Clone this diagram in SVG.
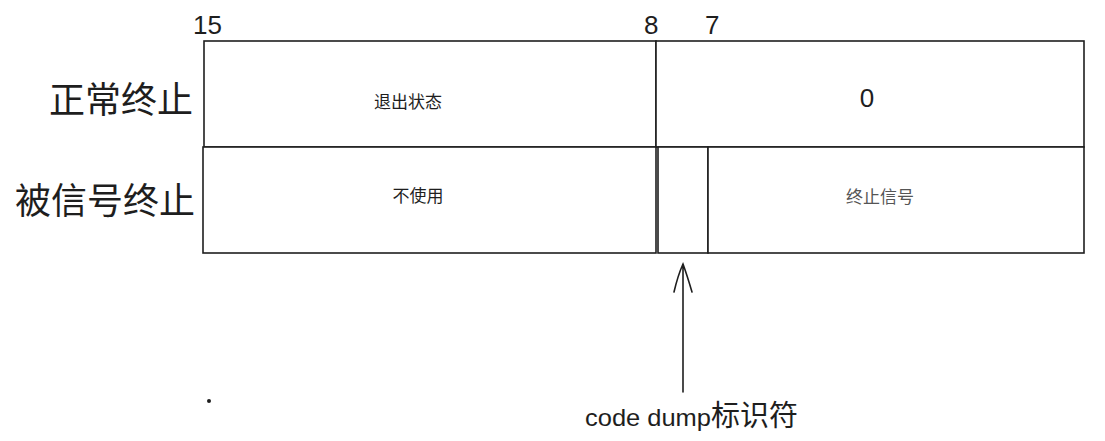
<svg xmlns="http://www.w3.org/2000/svg" width="1105" height="441" viewBox="0 0 1105 441">
<style>
.box{fill:#fff;stroke:#1e1e1e;stroke-width:1.6}
.big{font-family:"Noto Sans CJK SC","Liberation Sans",sans-serif;font-size:36px;fill:#1e1e1e}
.sm{font-family:"Noto Sans CJK SC","Liberation Sans",sans-serif;font-size:17px;fill:#1e1e1e}
.num{font-family:"Liberation Sans","Noto Sans CJK SC",sans-serif;font-size:26px;fill:#1e1e1e}
.cn{stroke:#1e1e1e;stroke-width:1.6;fill:none;stroke-linecap:round}
</style>
<rect width="1105" height="441" fill="#fff"/>
<g id="bits">
<text class="num" x="193" y="34">15</text>
<text class="num" x="644" y="34">8</text>
<text class="num" x="705" y="34">7</text>
</g>
<g id="row1">
<text class="big" x="193" y="113" text-anchor="end">正常终止</text>
<g id="exit-status"><rect class="box" x="204" y="41" width="452" height="106"/><text class="sm" x="408" y="108" text-anchor="middle">退出状态</text></g>
<g id="zero"><rect class="box" x="656" y="41" width="428" height="106"/><text class="num" x="867" y="107" text-anchor="middle" font-size="36">0</text></g>
</g>
<g id="row2">
<text class="big" x="195" y="214" text-anchor="end">被信号终止</text>
<g id="unused"><rect class="box" x="203" y="147" width="453" height="106"/><text class="sm" x="418" y="202" text-anchor="middle">不使用</text></g>
<g id="core"><rect class="box" x="658" y="147" width="50" height="106"/></g>
<g id="signal"><rect class="box" x="708" y="147" width="376" height="106"/><text class="sm" x="880" y="203" text-anchor="middle" style="fill:#555">终止信号</text></g>
</g>
<g id="connectors">
<path class="cn" d="M683 392 L683 264 M674 292 Q678 275 683 264 Q687 275 692 292"/>
</g>
<g id="label">
<text x="585" y="426" font-family="Liberation Sans,Noto Sans CJK SC,sans-serif" font-size="24" fill="#1e1e1e"><tspan textLength="126" lengthAdjust="spacingAndGlyphs">code dump</tspan><tspan font-family="Noto Sans CJK SC,sans-serif" font-size="29">标识符</tspan></text>
<circle cx="209" cy="401" r="2" fill="#1e1e1e"/>
</g>
</svg>
